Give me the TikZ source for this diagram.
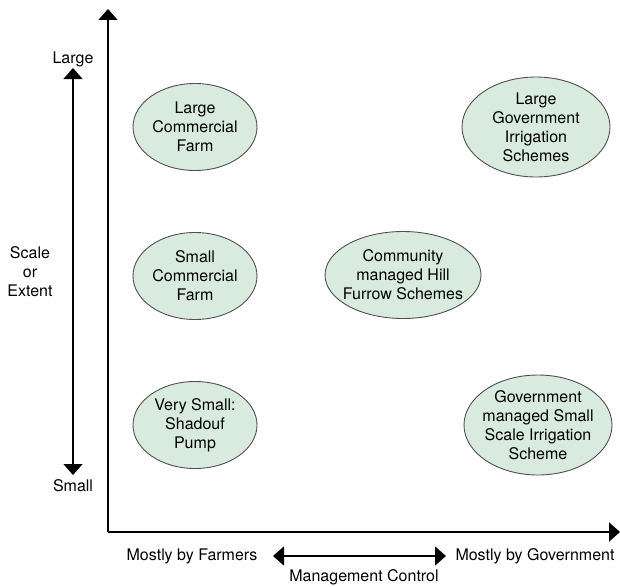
\documentclass[tikz,border=0pt]{standalone}
\usepackage{fontspec}
\setmainfont{TeX Gyre Heros}
\usetikzlibrary{arrows.meta,shapes.geometric}

\definecolor{schemegreen}{HTML}{D9EADF}
\definecolor{rim}{HTML}{505050}

\tikzset{
  txt/.style={font=\fontsize{16}{19}\selectfont, align=center, inner sep=0pt},
  scheme/.style={ellipse, draw=rim, fill=schemegreen, line width=0.9pt,
    minimum width=124pt, minimum height=87pt,
    label={[txt]center:{#1}}},
  axis/.style={line width=1.8pt, -{Triangle[width=19pt,length=11pt]}},
  twoway/.style={line width=1.6pt, {Triangle[width=19pt,length=11pt]}-{Triangle[width=19pt,length=11pt]}}
}

\begin{document}
\begin{tikzpicture}[x=1pt, y=-1pt]
  \useasboundingbox (0,0) rectangle (620,586);

  % axes
  \coordinate (origin) at (108,532);
  \coordinate (ytop) at (108,9);
  \coordinate (xend) at (620,532);
  \draw[axis] (origin) -- (ytop);
  \draw[axis] (origin) -- (xend);

  % scale arrow on the left
  \node[txt] (large) at (73,59) {Large};
  \node[txt] (small) at (73,486) {Small};
  \node[txt] (scale) at (30,272) {Scale\\or\\Extent};
  \coordinate (stop) at (73,68);
  \coordinate (sbot) at (73,475);
  \draw[twoway] (sbot) -- (stop);

  % management arrow at the bottom
  \node[txt] (farmers) at (192,556) {Mostly by Farmers};
  \node[txt] (govt) at (535,556) {Mostly by Government};
  \node[txt] (mgmt) at (364,577) {Management Control};
  \coordinate (mleft) at (273,556);
  \coordinate (mright) at (446,556);
  \draw[twoway] (mleft) -- (mright);

  % schemes
  \node[scheme={Large\\Commercial\\Farm}] (lcf) at (195,127) {};
  \node[scheme={Small\\Commercial\\Farm}] (scf) at (195,276) {};
  \node[scheme={Very Small:\\Shadouf\\Pump}] (pump) at (195,425) {};
  \node[scheme={Community\\managed Hill\\Furrow Schemes}, minimum width=156pt] (hill) at (403,275) {};
  \node[scheme={Large\\Government\\Irrigation\\Schemes}, minimum width=148pt, minimum height=100pt] (lgis) at (536,127) {};
  \node[scheme={Government\\managed Small\\Scale Irrigation\\Scheme}, minimum width=148pt, minimum height=100pt] (gss) at (538,425) {};
\end{tikzpicture}
\end{document}
